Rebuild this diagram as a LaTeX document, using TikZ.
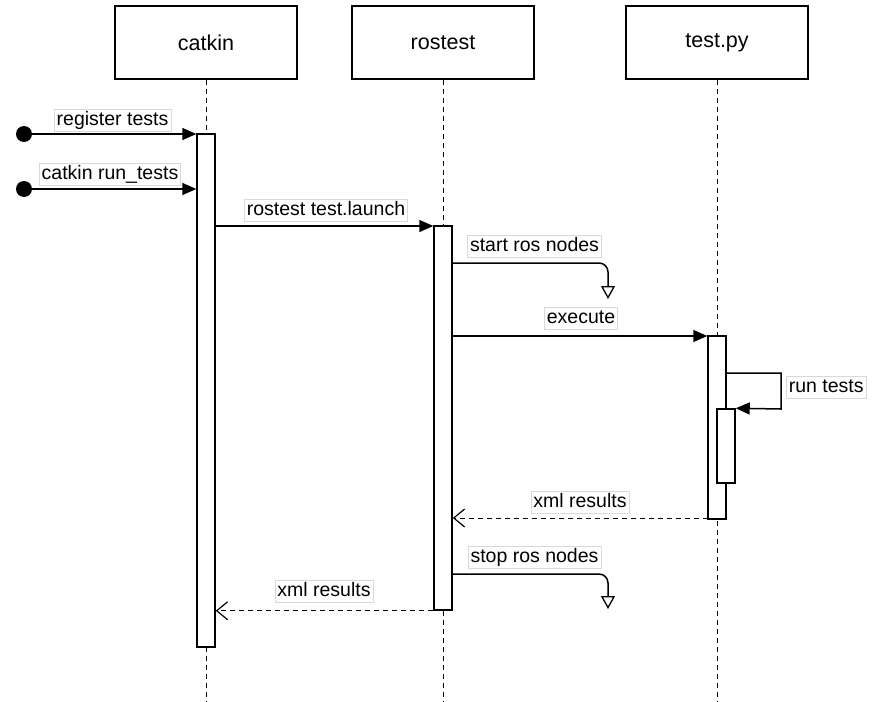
\documentclass[tikz,border=0pt]{standalone}
\usepackage{fontspec}
\setmainfont{Liberation Sans}
\usetikzlibrary{arrows.meta}
\begin{document}
\begin{tikzpicture}[x=1pt,y=-1pt,
  head/.style={draw,line width=1.5pt,minimum width=182pt,minimum height=73pt,font=\fontsize{21.5}{24}\selectfont,inner sep=0pt},
  life/.style={line width=1pt,dash pattern=on 5pt off 4pt},
  bar/.style={draw,fill=white,line width=1.5pt,minimum width=18pt,inner sep=0pt},
  msg/.style={line width=1.5pt,-{Triangle[length=14pt,width=12pt]}},
  ret/.style={line width=1pt,dash pattern=on 5pt off 4pt,-{Straight Barb[length=11pt,width=18pt,line width=1.2pt]}},
  self/.style={line width=1.5pt,rounded corners=9pt,-{Triangle[open,length=13pt,width=14pt,line width=1.3pt]}},
  lbl/.style={fill=white,draw=black!15,line width=0.6pt,inner xsep=2.5pt,inner ysep=2pt,text height=14pt,text depth=4pt,font=\fontsize{19.5}{22}\selectfont},
  dot/.style={circle,fill=black,minimum size=16pt,inner sep=0pt}]
\useasboundingbox (0,0) rectangle (885,701);
% heads
\node[head] (catkin) at (206,42.5) {catkin};
\node[head] (rostest) at (443,42.5) {rostest};
\node[head] (testpy) at (717,42.5) {test.py};
% lifelines
\coordinate (cend) at (206,701);
\coordinate (rend) at (443,701);
\coordinate (tend) at (717,701);
\draw[life] (catkin.south) -- (cend);
\draw[life] (rostest.south) -- (rend);
\draw[life] (testpy.south) -- (tend);
% activation bars
\node[bar,minimum height=513pt] (cbar) at (206,390.5) {};
\node[bar,minimum height=384pt] (rbar) at (443,418) {};
\node[bar,minimum height=183pt] (tbar) at (717,427.5) {};
\node[bar,minimum height=74pt] (tbar2) at (726,446) {};
% start dots
\node[dot] (d1) at (24,134) {};
\node[dot] (d2) at (24,189) {};
% register tests
\draw[msg] (d1.center) -- (d1.center -| cbar.west);
\node[lbl,anchor=south] at (112.5,132) {register tests};
% catkin run_tests
\draw[msg] (d2.center) -- (d2.center -| cbar.west);
\node[lbl,anchor=south] at (110,186) {catkin run\_tests};
% rostest test.launch
\coordinate (m3) at (215,226);
\draw[msg] (m3) -- (m3 -| rbar.west);
\node[lbl,anchor=south] at (326,222) {rostest test.launch};
% start ros nodes
\coordinate (s1) at (608,299);
\draw[self] (rbar.east |- 0,263) -- (608,263) -- (s1);
\node[lbl,anchor=south] at (534.5,258) {start ros nodes};
% execute
\coordinate (m4) at (452,336);
\draw[msg] (m4) -- (m4 -| tbar.west);
\node[lbl,anchor=south] at (581,330) {execute};
% run tests
\draw[msg] (tbar.east |- 0,373) -- (781,373) -- (781,409) -- (tbar2.north east);
\node[lbl,anchor=west] at (786,387) {run tests};
% xml results to rostest
\coordinate (r1) at (708,518);
\draw[ret] (r1) -- (r1 -| rbar.east);
\node[lbl,anchor=south] at (580,514) {xml results};
% stop ros nodes
\coordinate (s2) at (608,609);
\draw[self] (rbar.east |- 0,574) -- (608,574) -- (s2);
\node[lbl,anchor=south] at (534.5,569) {stop ros nodes};
% xml results to catkin
\draw[ret] (rbar.south west) -- (rbar.south west -| cbar.east);
\node[lbl,anchor=south] at (324,603) {xml results};
\end{tikzpicture}
\end{document}
